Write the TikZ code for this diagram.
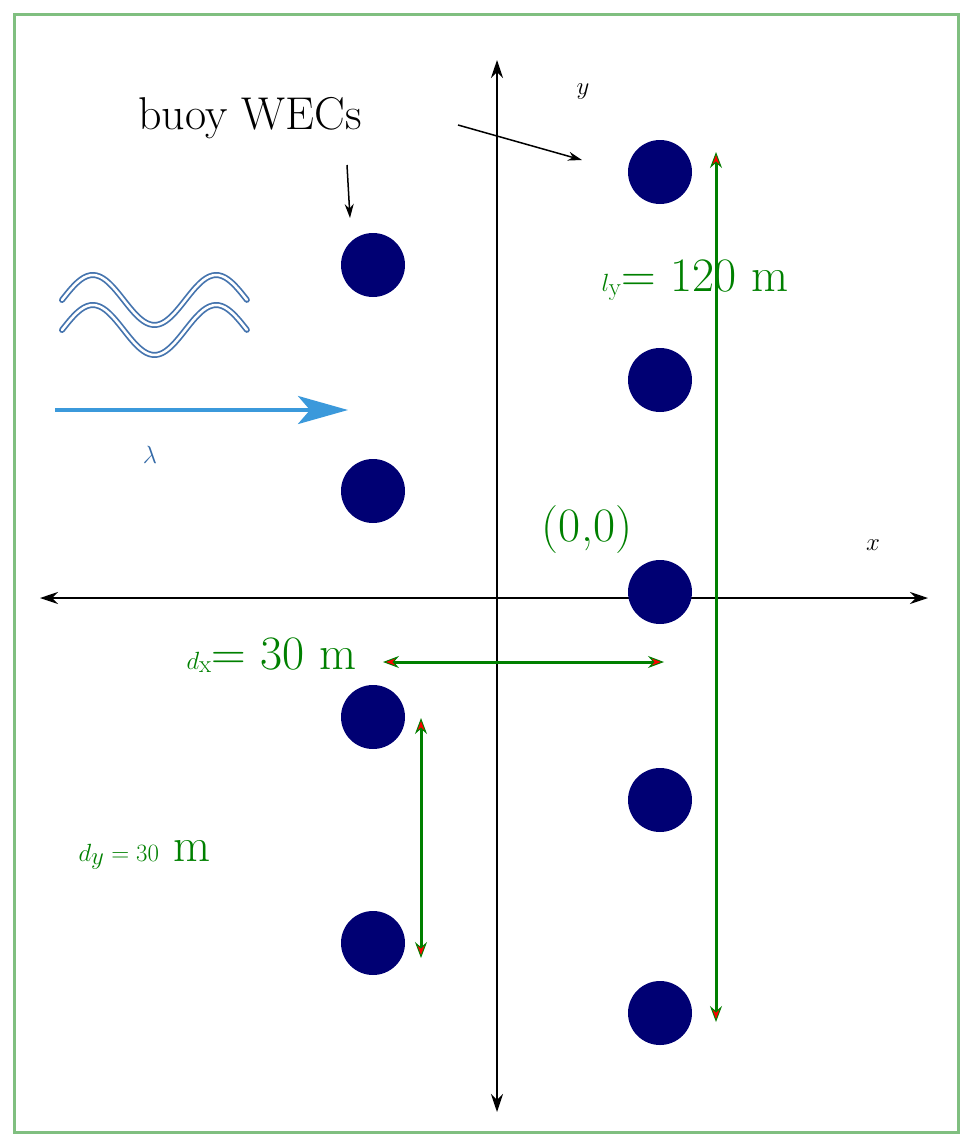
\documentclass[tikz,border=0pt]{standalone}
\usetikzlibrary{arrows.meta}
\begin{document}
\begin{tikzpicture}[x=1pt,y=-1pt,
  buoy/.style={circle,fill=blue!45!black,minimum size=64pt,inner sep=0pt},
  axis/.style={line width=2pt,{Stealth[length=18pt,width=12pt]}-{Stealth[length=18pt,width=12pt]}},
  dim/.style={line width=3pt,draw=green!50!black,{Stealth[length=16pt,width=12pt,fill=red,line width=1pt]}-{Stealth[length=16pt,width=12pt,fill=red,line width=1pt]}},
  lbl/.style={text=green!50!black,font=\fontsize{48}{50}\selectfont},
  point/.style={line width=1.5pt,-{Stealth[length=14pt,width=9pt]}}]
\useasboundingbox (0,0) rectangle (972,1146);
\draw[green!50!black!50,line width=3pt] (14,14) rectangle (958,1132);
% axes
\coordinate (yt) at (497,60); \coordinate (yb) at (497,1112);
\coordinate (xl) at (40,598); \coordinate (xr) at (928,598);
\draw[axis] (yb) -- (yt);
\draw[axis] (xl) -- (xr);
\node[font=\fontsize{54}{56}\selectfont\itshape] (ylab) at (583,92) {$y$};
\node[font=\fontsize{54}{56}\selectfont] (xlab) at (873,545) {$x$};
% buoys
\foreach \n/\x/\y in {a/373/265,b/373/491,c/373/717,d/373/943,e/660/172,f/660/380,g/660/592,h/660/800,i/660/1013}
  \node[buoy] (\n) at (\x,\y) {};
% label
\node[font=\fontsize{46}{48}\selectfont] (wec) at (250,118) {buoy WECs};
\coordinate (w1) at (347,165); \coordinate (w2) at (350,218);
\coordinate (w3) at (458,125); \coordinate (w4) at (582,160);
\draw[point] (w1) -- (w2);
\draw[point] (w3) -- (w4);
% dimensions
\coordinate (ly1) at (716,152); \coordinate (ly2) at (716,1022);
\draw[dim] (ly1) -- (ly2);
\node[lbl,anchor=west] (lyl) at (598,280) {$l_{\mathrm y}$= 120 m};
\node[lbl] (orig) at (587,530) {(0,0)};
\coordinate (dx1) at (383,662); \coordinate (dx2) at (664,662);
\draw[dim] (dx1) -- (dx2);
\node[lbl,anchor=east] (dxl) at (360,655) {$d_{\mathrm x}$= 30 m};
\coordinate (dy1) at (421,718); \coordinate (dy2) at (421,958);
\draw[dim] (dy1) -- (dy2);
\node[lbl,anchor=west] (dyl) at (75,855) {$d_y = 30$ m};
% wave
\foreach \dy in {0,30}{
  \draw[line width=6pt,cyan!50!blue!80!black!90,line cap=round]
    plot[domain=0:1,samples=60] ({62+185*\x},{300+\dy-25*sin(540*\x)});
  \draw[line width=2.5pt,white,line cap=round]
    plot[domain=0:1,samples=60] ({62+185*\x},{300+\dy-25*sin(540*\x)});
}
\coordinate (wa) at (55,410); \coordinate (wb) at (348,410);
\draw[line width=4pt,cyan!70!blue!80,-{Stealth[length=50pt,width=28pt,inset=12pt]}] (wa) -- (wb);
\node[font=\fontsize{60}{62}\selectfont,text=cyan!50!blue!80!black] (lam) at (150,455) {$\lambda$};
\end{tikzpicture}
\end{document}
